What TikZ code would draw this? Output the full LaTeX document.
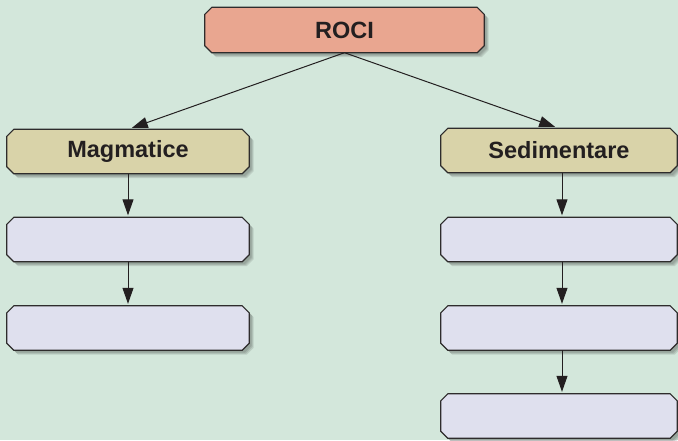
\documentclass[tikz,border=0pt]{standalone}
\usepackage{fontspec}
\setmainfont{Liberation Sans}
\usetikzlibrary{arrows.meta}
\definecolor{bg}{HTML}{D3E7DB}
\definecolor{rocifill}{HTML}{E9A690}
\definecolor{catfill}{HTML}{D9D3A9}
\definecolor{emptyfill}{HTML}{DFE0EE}
\definecolor{edge}{HTML}{2E2C2C}
\definecolor{txt}{HTML}{231F20}
\pgfdeclarelayer{background}
\pgfsetlayers{background,main}
\tikzset{
  box/.style={rectangle, draw=none, inner sep=0pt, minimum height=44pt,
    font=\fontsize{23.5}{27}\selectfont\bfseries, text=txt},
  arr/.style={-{Triangle[length=16pt,width=11pt]}, line width=1pt, draw=txt},
  boxline/.style={draw=edge, line width=1.2pt, line join=miter},
  shade/.style={fill=black!85, opacity=0.13}
}
\newcommand\chcorners[3]{%
([xshift=#2+7pt,yshift=#3]#1.north west) -- ([xshift=#2-7pt,yshift=#3]#1.north east) --
([xshift=#2,yshift=#3-7pt]#1.north east) -- ([xshift=#2,yshift=#3+7pt]#1.south east) --
([xshift=#2-7pt,yshift=#3]#1.south east) -- ([xshift=#2+7pt,yshift=#3]#1.south west) --
([xshift=#2,yshift=#3+7pt]#1.south west) -- ([xshift=#2,yshift=#3-7pt]#1.north west) -- cycle}
\newcommand\chbox[2]{%
  \fill[shade] \chcorners{#1}{2.5pt}{-2.5pt};
  \fill[shade] \chcorners{#1}{3.5pt}{-3.5pt};
  \fill[shade] \chcorners{#1}{4.5pt}{-4.5pt};
  \path[boxline, fill=#2] \chcorners{#1}{0pt}{0pt};}
\begin{document}
\begin{tikzpicture}[x=1pt,y=-1pt]
\useasboundingbox (0,0) rectangle (678,440);
\node[box, minimum width=279pt, minimum height=45pt] (roci) at (344.5,30) {ROCI};
\node[box, minimum width=242pt] (mag) at (128,151.5) {Magmatice};
\node[box, minimum width=236pt] (sed) at (559,150.5) {Sedimentare};
\node[box, minimum width=242pt] (l1) at (128,239.5) {};
\node[box, minimum width=242pt] (l2) at (128,328) {};
\node[box, minimum width=236pt] (r1) at (559,239.5) {};
\node[box, minimum width=236pt] (r2) at (559,328) {};
\node[box, minimum width=236pt] (r3) at (559,416) {};
\begin{pgfonlayer}{background}
\fill[bg] (0,0) rectangle (678,440);
\chbox{roci}{rocifill}
\chbox{mag}{catfill}
\chbox{sed}{catfill}
\chbox{l1}{emptyfill}
\chbox{l2}{emptyfill}
\chbox{r1}{emptyfill}
\chbox{r2}{emptyfill}
\chbox{r3}{emptyfill}
\end{pgfonlayer}
\draw[arr, shorten >=4pt] (roci.south) -- (mag.north);
\draw[arr, shorten >=4pt] (roci.south) -- (sed.north);
\draw[arr, shorten >=2pt] (mag.south) -- (l1.north);
\draw[arr, shorten >=2pt] (l1.south) -- (l2.north);
\draw[arr, shorten >=2pt] ([xshift=3pt]sed.south) -- ([xshift=3pt]r1.north);
\draw[arr, shorten >=2pt] ([xshift=3pt]r1.south) -- ([xshift=3pt]r2.north);
\draw[arr, shorten >=2pt] ([xshift=3pt]r2.south) -- ([xshift=3pt]r3.north);
\end{tikzpicture}
\end{document}
